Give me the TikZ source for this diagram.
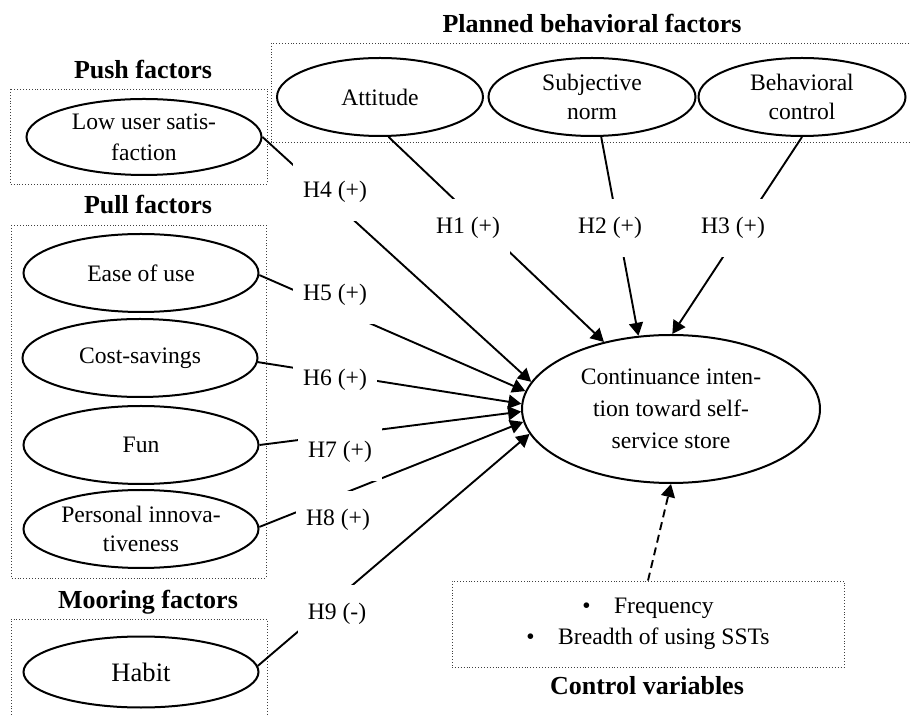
\documentclass[tikz,border=0pt]{standalone}
\usepackage{fontspec}
\setmainfont{Liberation Serif}
\usetikzlibrary{shapes.geometric,arrows.meta}

\begin{document}
\begin{tikzpicture}[x=0.5pt,y=-0.5pt,
    font=\fontsize{11.8}{14.5}\selectfont,
    factor/.style={draw,ellipse,line width=1pt,inner sep=0pt,align=center,
      minimum width=117.5pt,minimum height=39pt},
    grpbox/.style={draw=black!75,densely dotted,line width=0.45pt},
    grptitle/.style={font=\fontsize{13}{15}\selectfont\bfseries},
    hyp/.style={fill=white,inner xsep=5pt,inner ysep=9pt},
    hpath/.style={line width=0.95pt,-{Triangle[length=6.5pt,width=7pt]}}]
    \useasboundingbox (0,0) rectangle (910,715);

    \draw[grpbox] (912,43) -- (271,43) -- (271,142) -- (912,142);
    \draw[grpbox] (10,89) rectangle (267,184);
    \draw[grpbox] (11,225) rectangle (266,578);
    \draw[grpbox] (11,718) -- (11,619) -- (267,619) -- (267,718);

    \node[grptitle] (plantitle) at (592,23) {Planned behavioral factors};
    \node[grptitle] (pushtitle) at (143,70) {Push factors};
    \node[grptitle] (pulltitle) at (148,205) {Pull factors};
    \node[grptitle] (moortitle) at (148,602) {Mooring factors};
    \node[grptitle] (ctrltitle) at (647,686) {Control variables};

    \node[factor,minimum width=103pt] (att) at (380,97) {Attitude};
    \node[factor,minimum width=103.5pt] (subj) at (592,97) {Subjective\\norm};
    \node[factor,minimum width=103.5pt] (beh) at (802,97) {Behavioral\\control};
    \node[factor,minimum height=38pt,font=\fontsize{11.8}{15.5}\selectfont] (low) at (144,137) {Low user satis-\\faction};
    \node[factor] (ease) at (141,273) {Ease of use};
    \node[factor] (cost) at (140,358) {Cost-savings};
    \node[factor] (fun) at (141,445) {Fun};
    \node[factor] (pers) at (141,529) {Personal innova-\\tiveness};
    \node[factor,minimum height=35.5pt,font=\fontsize{13.3}{15}\selectfont] (habit) at (141,672) {Habit};
    \node[factor,minimum width=149pt,minimum height=74pt,font=\fontsize{11.8}{16}\selectfont] (cont) at (671,409)
      {Continuance inten-\\tion toward self-\\service store};

    \node[grpbox,minimum width=196pt,minimum height=43pt,align=center,
      font=\fontsize{11.8}{15.5}\selectfont] (ctrl) at (648,624)
      {\textbullet\quad Frequency\\\textbullet\quad Breadth of using SSTs};

    \draw[hpath] (att.-78) -- (cont.135);
    \draw[hpath] (subj.-77) -- (cont.114);
    \draw[hpath] (beh.-90) -- (cont.89);
    \draw[hpath] (low.0) -- (cont.169);
    \draw[hpath] (ease.-1) -- (cont.173);
    \draw[hpath] (cost.-2) -- (cont.178);
    \draw[hpath] (fun.0) -- (cont.181);
    \draw[hpath] (pers.1) -- (cont.185);
    \draw[hpath] (habit.3) -- (cont.190);
    \draw[hpath,dash pattern=on 4pt off 2.5pt] (ctrl.north) -- (cont.-90);

    \node[hyp] (h1) at (468,228) {H1 (+)};
    \node[hyp] (h2) at (610,228) {H2 (+)};
    \node[hyp] (h3) at (733,228) {H3 (+)};
    \node[hyp] (h4) at (335,192) {H4 (+)};
    \node[hyp] (h5) at (335,295) {H5 (+)};
    \node[hyp] (h6) at (335,380) {H6 (+)};
    \node[hyp] (h7) at (340,452) {H7 (+)};
    \node[hyp] (h8) at (338,520) {H8 (+)};
    \node[hyp] (h9) at (337,614) {H9 (-)};
\end{tikzpicture}
\end{document}
